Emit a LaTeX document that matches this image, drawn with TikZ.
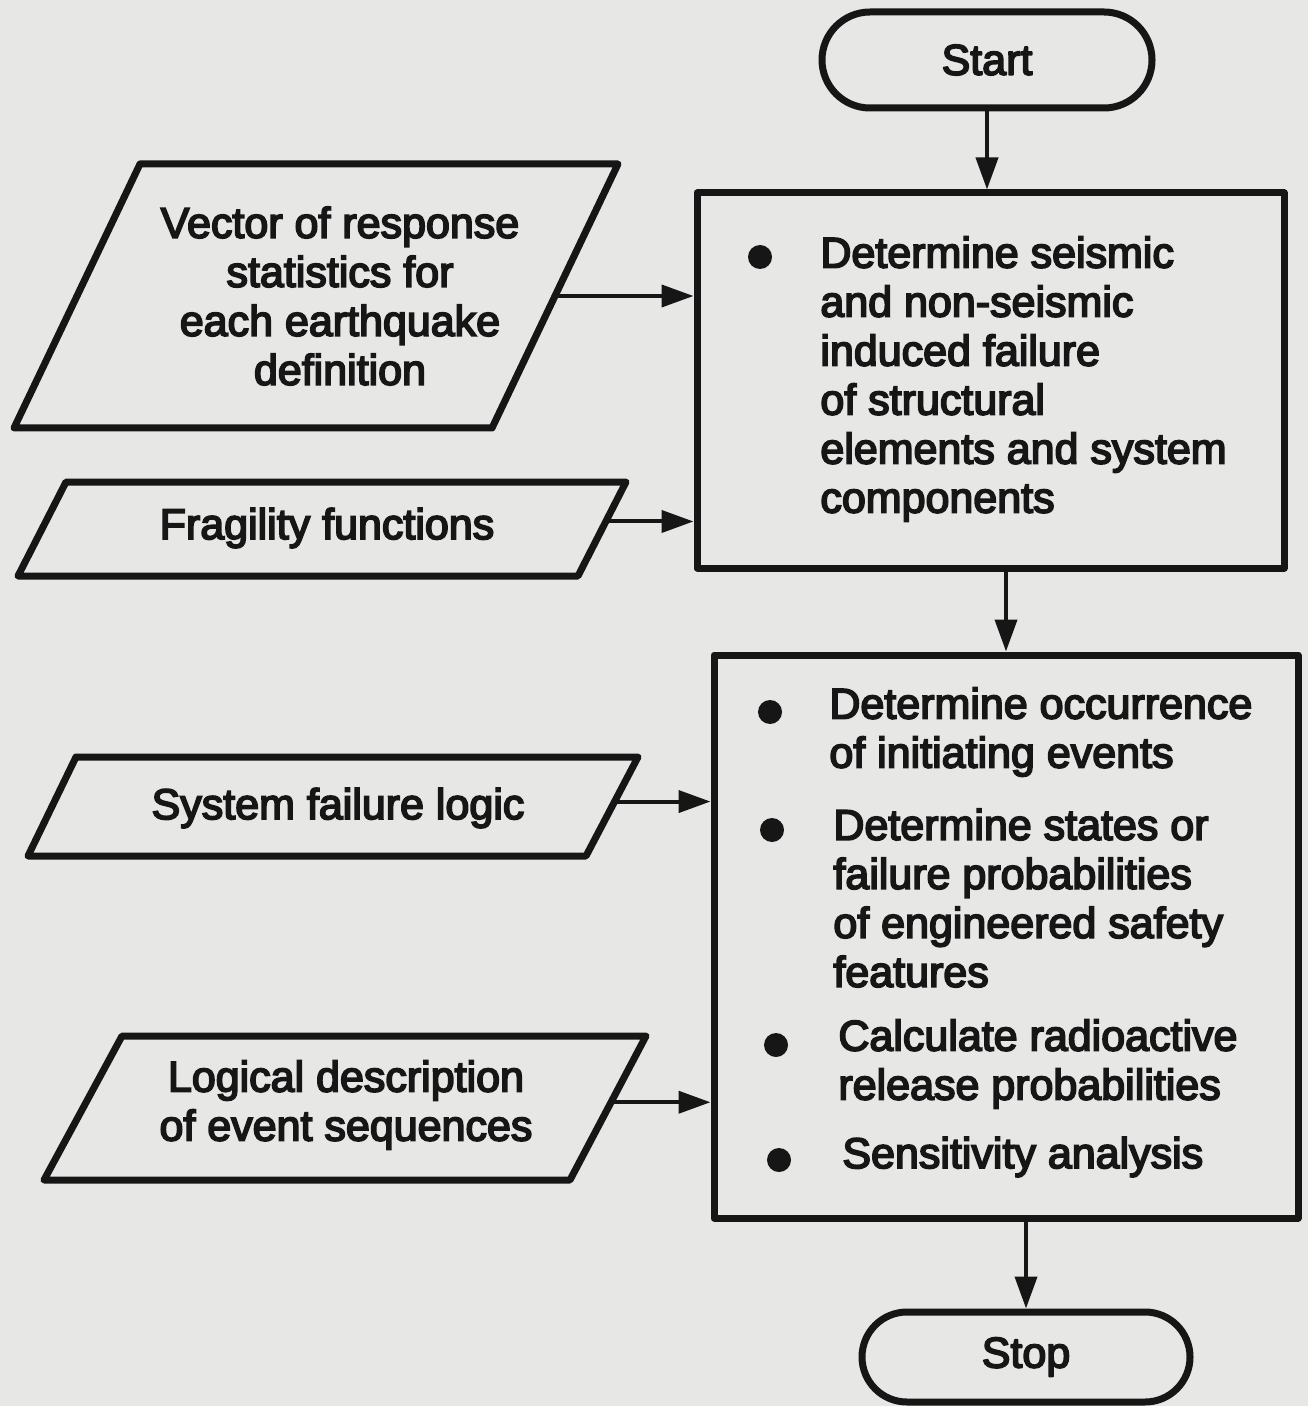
\documentclass[tikz,border=0pt]{standalone}
\usepackage{fontspec}
\newfontfamily\chartfont{Liberation Sans}[RawFeature={embolden=4}]
\usetikzlibrary{arrows.meta,calc}

\definecolor{paper}{RGB}{231,231,229}
\definecolor{ink}{RGB}{22,22,22}

\tikzset{
  outline/.style={draw=ink, line width=3.5pt, line join=round},
  terminal/.style={outline, rounded corners=#1, inner sep=0pt},
  procbox/.style={outline, rectangle, inner sep=0pt},
  flow/.style={draw=ink, line width=2pt, -{Triangle[length=16pt,width=11pt]}},
  txt/.style={text=ink, font=\chartfont\fontsize{21.5pt}{24.5pt}\selectfont, inner sep=0pt},
  bulletdot/.style={fill=ink, circle, minimum size=12pt, inner sep=0pt},
}

\begin{document}
\begin{tikzpicture}[x=0.5pt,y=-0.5pt]
\fill[paper] (0,0) rectangle (1308,1406);
\useasboundingbox (0,0) rectangle (1308,1406);

% terminals and process boxes
\node[terminal=24pt, minimum width=165pt, minimum height=48pt, txt] (start) at (987,60) {Start};
\node[procbox, minimum width=293.5pt, minimum height=187.5pt] (box1) at (990.5,380.5) {};
\node[procbox, minimum width=292pt, minimum height=281.5pt] (box2) at (1006,936.5) {};
\node[terminal=22.5pt, minimum width=164pt, minimum height=45pt, txt] (stop) at (1026,1357) {Stop};

% first process step
\node[bulletdot] (d1) at (760,257) {};
\node[txt, align=left, anchor=west] (t1) at (820,379)
  {Determine seismic\\and non-seismic\\induced failure\\of structural\\elements and system\\components};

% second process step
\node[bulletdot] (d2) at (770,712) {};
\node[bulletdot] (d3) at (772,830) {};
\node[bulletdot] (d4) at (776,1045) {};
\node[bulletdot] (d5) at (779,1160) {};
\node[txt, align=left, anchor=west] (i1) at (829,732) {Determine occurrence\\of initiating events};
\node[txt, align=left, anchor=west] (i2) at (833,898) {Determine states or\\failure probabilities\\of engineered safety\\features};
\node[txt, align=left, anchor=west] (i3) at (838,1064) {Calculate radioactive\\release probabilities};
\node[txt, align=left, anchor=west] (i4) at (842,1157) {Sensitivity analysis};

% input data (parallelograms)
\coordinate (p1tl) at (140,164);  \coordinate (p1tr) at (618,164);
\coordinate (p1br) at (492,428);  \coordinate (p1bl) at (14,428);
\draw[outline] (p1tl) -- (p1tr) -- (p1br) -- (p1bl) -- cycle;
\node[txt, align=center] (in1) at (340,296)
  {Vector of response\\statistics for\\each earthquake\\definition};

\coordinate (p2tl) at (66,482);   \coordinate (p2tr) at (626,482);
\coordinate (p2br) at (578,576);  \coordinate (p2bl) at (18,576);
\draw[outline] (p2tl) -- (p2tr) -- (p2br) -- (p2bl) -- cycle;
\node[txt] (in2) at (327,528) {Fragility functions};

\coordinate (p3tl) at (76,757);   \coordinate (p3tr) at (638,757);
\coordinate (p3br) at (586,856);  \coordinate (p3bl) at (28,856);
\draw[outline] (p3tl) -- (p3tr) -- (p3br) -- (p3bl) -- cycle;
\node[txt] (in3) at (338,808) {System failure logic};

\coordinate (p4tl) at (122,1036); \coordinate (p4tr) at (646,1036);
\coordinate (p4br) at (570,1180); \coordinate (p4bl) at (44,1180);
\draw[outline] (p4tl) -- (p4tr) -- (p4br) -- (p4bl) -- cycle;
\node[txt, align=center] (in4) at (346,1105) {Logical description\\of event sequences};

% connectors
\coordinate (o1) at ($(p1tr)!0.5!(p1br)$);
\coordinate (o2) at ($(p2tr)!0.42!(p2br)$);
\coordinate (o3) at ($(p3tr)!0.45!(p3br)$);
\coordinate (o4) at ($(p4tr)!0.46!(p4br)$);
\draw[flow] (o1) -- (o1 -| box1.west);
\draw[flow] (o2) -- (o2 -| box1.west);
\draw[flow] (o3) -- (o3 -| box2.west);
\draw[flow] (o4) -- (o4 -| box2.west);

\draw[flow] (start.south) -- (start |- box1.north);
\draw[flow] (box1.south -| box2) -- (box2.north);
\draw[flow] (box2.south -| stop) -- (stop.north);
\end{tikzpicture}
\end{document}
